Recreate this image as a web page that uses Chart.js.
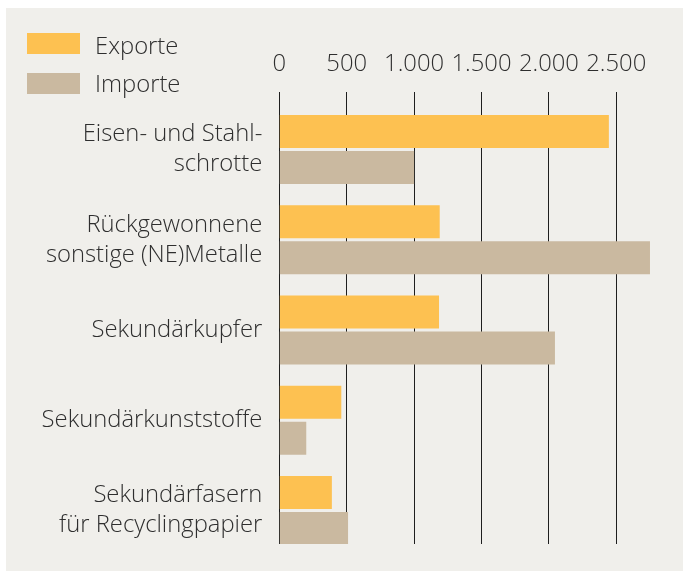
<!DOCTYPE html>
<html lang="de">
<head>
<meta charset="utf-8">
<title>Exporte und Importe von Sekundärrohstoffen</title>
<script src="https://cdn.jsdelivr.net/npm/chart.js@4.4.1/dist/chart.umd.min.js"></script>
<style>
  html, body { margin: 0; padding: 0; background: #ffffff; }
  body { width: 685px; height: 576px; position: relative; overflow: hidden; font-family: 'Open Sans', sans-serif; font-weight: 300; color: #2e2e2e; }
  #panel { position: absolute; left: 6px; top: 8px; width: 677px; height: 563px; background: #f0efeb; }
  #wrap { position: absolute; left: 0; top: 0; width: 685px; height: 576px; }
  .key { position: absolute; left: 27px; width: 53px; height: 21px; }
  .keytext { position: absolute; left: 95px; font-size: 23.8px; line-height: 1; white-space: nowrap; }
</style>
</head>
<body>
<div id="panel"></div>
<div id="wrap"><canvas id="chart" width="685" height="576"></canvas></div>
<div id="legend"></div>
<script>
const categories = [
    ['Eisen- und Stahl-', 'schrotte'],
    ['Rückgewonnene', 'sonstige (NE)Metalle'],
    'Sekundärkupfer',
    'Sekundärkunststoffe',
    ['Sekundärfasern', 'für Recyclingpapier']
];
const exporte = [2445, 1190, 1185, 460, 390];
const importe = [1000, 2750, 2045, 200, 510];
const xTickValues = [0, 500, 1000, 1500, 2000, 2500];
const xTickLabels = ['0', '500', '1.000', '1.500', '2.000', '2.500'];

const seriesNames = ['Exporte', 'Importe'];
const seriesColors = ['#fdc151', '#cab9a0'];

const FONT = { family: "'Open Sans', sans-serif", size: 23.8, weight: '300' };
const TEXT = '#2e2e2e';

// bars sit on a numeric y scale so the rows can be shifted inside the grid
const toPoints = arr => arr.map((v, i) => ({ x: v, y: i }));

const ctx = document.getElementById('chart').getContext('2d');
const chart = new Chart(ctx, {
    type: 'bar',
    data: {
        datasets: [
            { label: seriesNames[0], data: toPoints(exporte), backgroundColor: seriesColors[0] },
            { label: seriesNames[1], data: toPoints(importe), backgroundColor: seriesColors[1] }
        ]
    },
    options: {
        indexAxis: 'y',
        responsive: false,
        animation: false,
        categoryPercentage: 0.8,
        barPercentage: 0.914,
        layout: { padding: { left: 0, right: 14.8, top: 0, bottom: 32 } },
        scales: {
            x: {
                type: 'linear',
                position: 'top',
                offset: false,
                min: 0,
                max: 2900,
                afterBuildTicks: s => { s.ticks = xTickValues.map(v => ({ value: v })); },
                afterFit: s => { s.height = 92; s.paddingLeft = 0; s.paddingRight = 0; },
                border: { display: false },
                grid: { color: '#1e1e1e', lineWidth: 1, drawTicks: false, offset: false },
                ticks: {
                    autoSkip: false,
                    padding: 14,
                    color: TEXT,
                    font: FONT,
                    maxRotation: 0,
                    callback: (v, i) => xTickLabels[i]
                }
            },
            y: {
                type: 'linear',
                reverse: true,
                offset: false,
                min: -0.637,
                max: 4.371,
                afterBuildTicks: s => { s.ticks = categories.map((c, i) => ({ value: i })); },
                afterFit: s => { s.width = 279.3; s.paddingTop = 0; s.paddingBottom = 0; },
                border: { display: false },
                grid: { display: false, drawTicks: false, offset: false },
                ticks: {
                    autoSkip: false,
                    padding: 17,
                    color: TEXT,
                    font: Object.assign({ lineHeight: 1.26 }, FONT),
                    callback: v => categories[v]
                }
            }
        },
        plugins: {
            legend: { display: false },
            tooltip: { enabled: false }
        }
    }
});

// legend in HTML, built from the datasets
const legend = document.getElementById('legend');
const keyTops = [33, 73];
const textTops = [34, 71.7];
chart.data.datasets.forEach((ds, i) => {
    const box = document.createElement('div');
    box.className = 'key';
    box.style.top = keyTops[i] + 'px';
    box.style.background = ds.backgroundColor;
    legend.appendChild(box);
    const txt = document.createElement('div');
    txt.className = 'keytext';
    txt.style.top = textTops[i] + 'px';
    txt.textContent = ds.label;
    legend.appendChild(txt);
});
</script>
</body>
</html>
